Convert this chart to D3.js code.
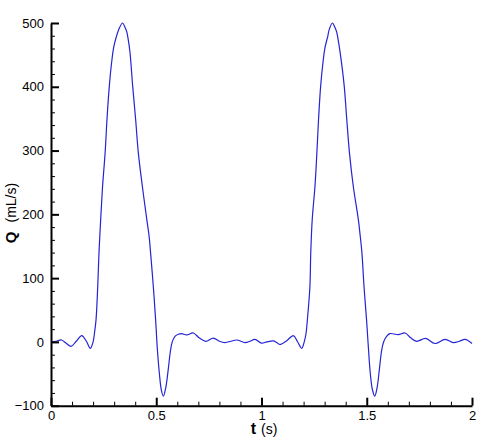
<!DOCTYPE html>
<html>
<head>
<meta charset="utf-8">
<script src="https://cdn.jsdelivr.net/npm/d3@7"></script>
<style>
  html, body { margin: 0; padding: 0; background: #fff; }
  svg { display: block; }
  text { font-family: "Liberation Sans", Arial, Helvetica, sans-serif; fill: #000; }
</style>
</head>
<body>
<svg id="chart" width="498" height="443"></svg>
<script>
// ---- data ----
const timeValues = [
  0, 0.025, 0.05, 0.072, 0.095, 0.12, 0.146, 0.168, 0.187, 0.2, 0.207, 0.214, 0.222, 0.228, 0.236, 0.245,
  0.257, 0.266, 0.277, 0.288, 0.298, 0.31, 0.322, 0.34, 0.352, 0.36, 0.366, 0.375, 0.388, 0.402, 0.415,
  0.434, 0.455, 0.466, 0.473, 0.486, 0.497, 0.505, 0.515, 0.524, 0.534, 0.545, 0.557, 0.567, 0.576, 0.59,
  0.605, 0.62, 0.645, 0.676, 0.705, 0.735, 0.771, 0.8, 0.827, 0.855, 0.882, 0.922, 0.945, 0.969,
  1.0, 1.025, 1.056, 1.072, 1.088, 1.12, 1.151, 1.17, 1.191, 1.203, 1.211, 1.218, 1.23, 1.234, 1.241, 1.254,
  1.263, 1.271, 1.281, 1.292, 1.302, 1.314, 1.322, 1.337, 1.349, 1.357, 1.363, 1.373, 1.393, 1.405, 1.418,
  1.436, 1.46, 1.469, 1.477, 1.487, 1.499, 1.507, 1.517, 1.527, 1.538, 1.549, 1.56, 1.57, 1.58, 1.595,
  1.61, 1.65, 1.682, 1.71, 1.737, 1.78, 1.824, 1.872, 1.911, 1.94, 1.967, 2.0
];
const flowValues = [
  0, 1, 3, -2, -7, 1, 10, 1, -10, 0, 15, 35, 87, 140, 192, 244,
  296, 349, 401, 438, 462, 478, 490, 500, 493, 486, 476, 455, 401, 349, 296,
  244, 192, 166, 140, 87, 35, -10, -50, -75, -85, -72, -43, -15, 0, 9,
  12, 13, 11, 14, 6, 1, 6, 1, -1, 1, 3, -1, 1, 4,
  -2, 0, 1.5, -1, -4, 2, 10, 1, -10, 0, 12, 35, 87, 140, 192, 244,
  296, 349, 401, 438, 462, 478, 490, 500, 493, 486, 476, 455, 401, 349, 296,
  244, 192, 166, 140, 87, 35, -5, -50, -75, -85, -72, -43, -15, 0, 9,
  13, 11.5, 14, 6, 1, 5.5, -2.5, 4, -1, 1, 4, -2.5
];
const xMajorTicks = [0, 0.5, 1, 1.5, 2];
const xMinorTicks = [0.1, 0.2, 0.3, 0.4, 0.6, 0.7, 0.8, 0.9, 1.1, 1.2, 1.3, 1.4, 1.6, 1.7, 1.8, 1.9];
const yMajorTicks = [-100, 0, 100, 200, 300, 400, 500];
const yMinorTicks = [-80, -60, -40, -20, 20, 40, 60, 80, 120, 140, 160, 180, 220, 240, 260, 280,
                     320, 340, 360, 380, 420, 440, 460, 480];
const xTitleBold = "t", xTitleRest = "(s)";
const yTitleBold = "Q", yTitleRest = "(mL/s)";

// ---- layout ----
const svg = d3.select("#chart");
const x = d3.scaleLinear().domain([0, 2]).range([51, 472]);
const y = d3.scaleLinear().domain([-100, 500]).range([405.7, 23]);

const data = timeValues.map((t, i) => ({ t, q: flowValues[i] }));

// curve
svg.append("path")
  .datum(data)
  .attr("fill", "none")
  .attr("stroke", "#2424d4")
  .attr("stroke-width", 1.2)
  .attr("d", d3.line().x(d => x(d.t)).y(d => y(d.q)).curve(d3.curveCatmullRom.alpha(0.5)));

// minor ticks
const yMinor = svg.append("g").attr("transform", `translate(${x(0)},0)`)
  .call(d3.axisLeft(y).tickValues(yMinorTicks).tickSize(-4).tickFormat(""));
yMinor.select(".domain").remove();
yMinor.selectAll("line").attr("stroke-width", 1);

const xMinor = svg.append("g").attr("transform", `translate(0,${y(-100)})`)
  .call(d3.axisBottom(x).tickValues(xMinorTicks).tickSize(-4).tickFormat(""));
xMinor.select(".domain").remove();
xMinor.selectAll("line").attr("stroke-width", 1);

// major axes
const yAxis = svg.append("g").attr("transform", `translate(${x(0)},0)`)
  .call(d3.axisLeft(y).tickValues(yMajorTicks).tickSize(-8).tickSizeOuter(0).tickPadding(7));
const xAxis = svg.append("g").attr("transform", `translate(0,${y(-100)})`)
  .call(d3.axisBottom(x).tickValues(xMajorTicks).tickSize(-8).tickSizeOuter(0).tickPadding(5)
    .tickFormat(d => String(d)));

[yAxis, xAxis].forEach(g => {
  g.select(".domain").attr("stroke-width", 2).attr("stroke", "#000");
  g.selectAll(".tick line").attr("stroke-width", 2).attr("stroke", "#000");
  g.selectAll(".tick text").attr("font-size", 13)
    .attr("font-family", '"Liberation Sans", Arial, sans-serif').attr("fill", "#000");
});

// axis titles
const xt = svg.append("text")
  .attr("x", 264).attr("y", 434)
  .attr("text-anchor", "middle")
  .attr("font-size", 14);
xt.append("tspan").attr("font-weight", "bold").attr("font-size", 16).text(xTitleBold);
xt.append("tspan").attr("dx", 5).text(xTitleRest);

const yt = svg.append("text")
  .attr("transform", "translate(15.5,213) rotate(-90)")
  .attr("text-anchor", "middle")
  .attr("font-size", 14);
yt.append("tspan").attr("font-weight", "bold").attr("font-size", 15).text(yTitleBold);
yt.append("tspan").attr("dx", 9).text(yTitleRest);
</script>
</body>
</html>
